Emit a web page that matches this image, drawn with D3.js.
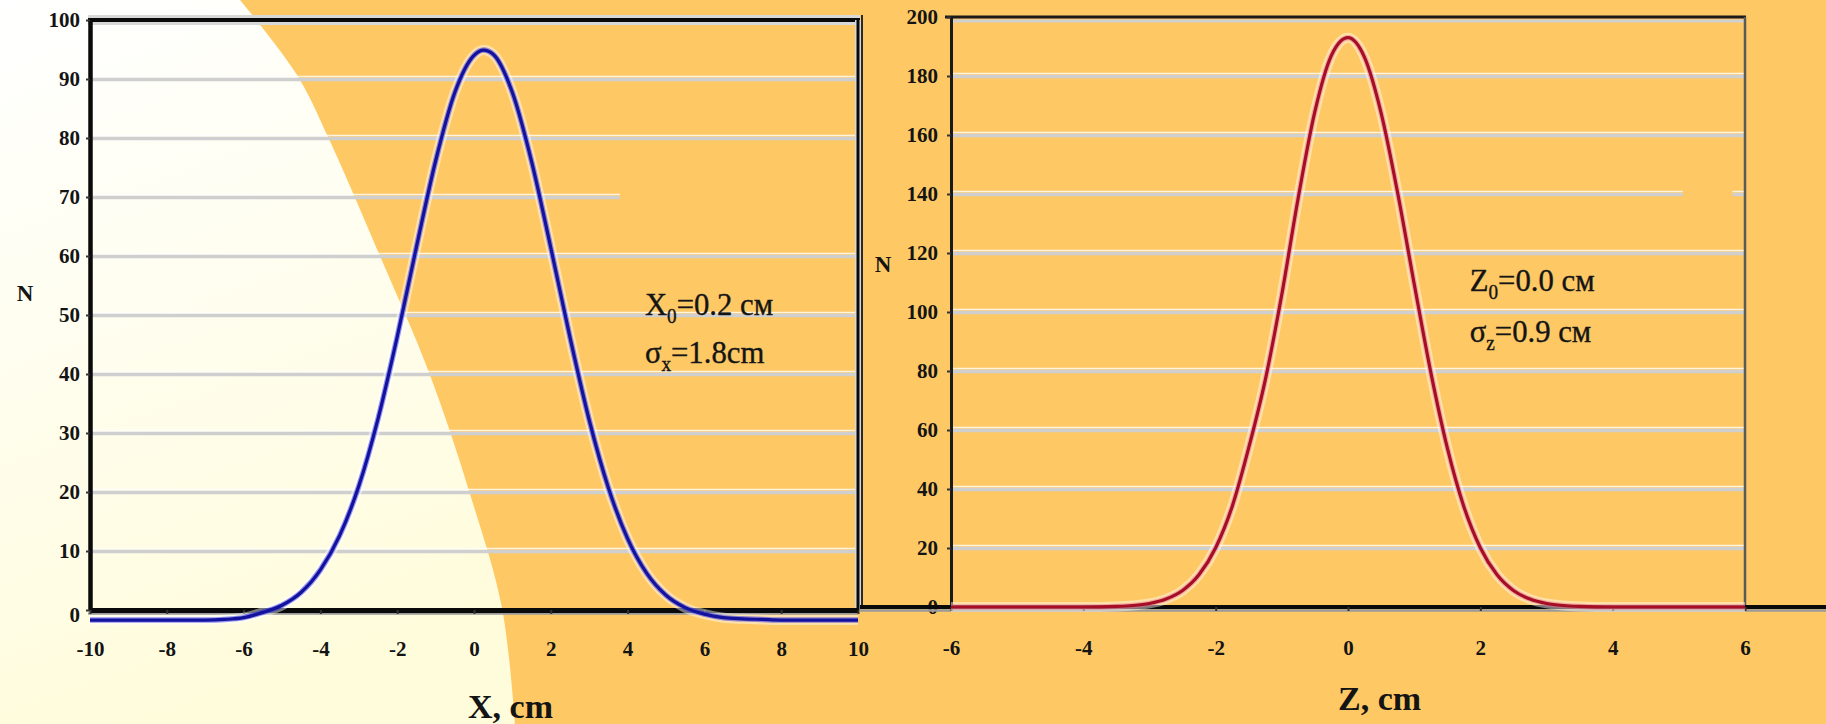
<!DOCTYPE html>
<html>
<head>
<meta charset="utf-8">
<script src="https://cdn.jsdelivr.net/npm/d3@7"></script>
<style>
  html, body { margin: 0; padding: 0; background: #FEC965; }
  svg { display: block; }
  text { font-family: "Liberation Serif", "Times New Roman", serif; fill: #141414; }
</style>
</head>
<body>
<svg id="chart" width="1826" height="724"></svg>
<script>
// Beam profile along X: counts N per position (cm)
const xPositions = [-10, -9.5, -9, -8.5, -8, -7.5, -7, -6.5, -6, -5.5, -5, -4.5, -4, -3.5, -3, -2.5, -2, -1.5, -1, -0.5,
                    0, 0.25, 0.5, 1, 1.5, 2, 2.5, 3, 3.5, 4, 4.5, 5, 5.5, 6, 6.5, 7, 7.5, 8, 8.5, 9, 9.5, 10];
const xCounts    = [-1.7, -1.7, -1.7, -1.7, -1.7, -1.7, -1.7, -1.6, -1.3, -0.4, 0.8, 3.0, 6.8, 12.6, 21.0, 32.4, 46.3, 61.5, 76.1, 87.7,
                    94.0, 94.9, 94.2, 87.7, 76.0, 61.4, 46.2, 32.2, 20.7, 12.1, 6.2, 2.5, 0.4, -0.7, -1.3, -1.5, -1.6, -1.7, -1.7, -1.7, -1.7, -1.7];

// Beam profile along Z: counts N per position (cm)
const zPositions = [-6, -5, -4, -3.5, -3.25, -3, -2.75, -2.5, -2.25, -2, -1.75, -1.5, -1.25, -1, -0.75, -0.5, -0.25,
                    0, 0.25, 0.5, 0.75, 1, 1.25, 1.5, 1.75, 2, 2.25, 2.5, 2.75, 3, 3.25, 3.5, 4, 5, 6];
const zCounts    = [0, 0, 0, 0.2, 0.5, 1.2, 2.7, 5.6, 11.0, 20.1, 34.1, 54.0, 77.0, 106.0, 139.0, 168.0, 187.0,
                    193.0, 186.3, 167.5, 140.4, 109.6, 79.7, 54.0, 34.1, 20.1, 11.0, 5.6, 2.7, 1.2, 0.5, 0.2, 0, 0, 0];

// Axis ticks
const xTicks = [-10, -8, -6, -4, -2, 0, 2, 4, 6, 8, 10];
const xCountTicks = [0, 10, 20, 30, 40, 50, 60, 70, 80, 90, 100];
const zTicks = [-6, -4, -2, 0, 2, 4, 6];
const zCountTicks = [0, 20, 40, 60, 80, 100, 120, 140, 160, 180, 200];

// Fit parameters printed in each panel
const xFitLines = [["X", "0", "=0.2 см"], ["σ", "x", "=1.8cm"]];
const zFitLines = [["Z", "0", "=0.0 см"], ["σ", "z", "=0.9 см"]];

// Gridline stretches that are left out (axis units)
const xGridGaps = [{ value: 70, from: 3.8, to: 10 }];
const zGridGaps = [{ value: 140, from: 5.06, to: 5.81 }];

const W = 1826, H = 724;
const svg = d3.select("#chart");
const plainNumber = d => String(d);   // hyphen-minus, as typeset on the slide

// ---------- background: cream swoosh over orange ----------
const defs = svg.append("defs");
const grad = defs.append("linearGradient").attr("id", "cream")
  .attr("x1", 0).attr("y1", 0).attr("x2", 0.25).attr("y2", 1);
grad.append("stop").attr("offset", "0%").attr("stop-color", "#FFFFFF");
grad.append("stop").attr("offset", "45%").attr("stop-color", "#FFFEF0");
grad.append("stop").attr("offset", "100%").attr("stop-color", "#FFFCDC");

svg.append("rect").attr("width", W).attr("height", H).attr("fill", "#FEC965");

const swooshEdge = [[240, 0], [297, 75], [328, 137], [380, 256], [430, 375], [470, 494], [502, 608], [515, 724]];
const edgePath = d3.line().curve(d3.curveCatmullRom)(swooshEdge);
svg.append("path")
  .attr("d", "M0,0L" + edgePath.slice(1) + "L0,724Z")
  .attr("fill", "url(#cream)");

// ---------- shared helpers ----------
function gridSegments(value, domain, gaps) {
  let segs = [[domain[0], domain[1]]];
  gaps.filter(g => g.value === value).forEach(g => {
    const next = [];
    segs.forEach(([a, b]) => {
      if (g.to <= a || g.from >= b) { next.push([a, b]); return; }
      if (g.from > a) next.push([a, g.from]);
      if (g.to < b) next.push([g.to, b]);
    });
    segs = next;
  });
  return segs;
}

function drawGrid(g, x, y, ticks, gaps) {
  const dom = x.domain();
  ticks.filter(t => t !== 0).forEach(t => {
    gridSegments(t, dom, gaps).forEach(([a, b]) => {
      g.append("line")
        .attr("x1", x(a)).attr("x2", x(b))
        .attr("y1", y(t) - 2.5).attr("y2", y(t) - 2.5)
        .attr("stroke", "#FFFFFF").attr("stroke-width", 1.5).attr("opacity", 0.8);
      g.append("line")
        .attr("x1", x(a)).attr("x2", x(b))
        .attr("y1", y(t) + 0.5).attr("y2", y(t) + 0.5)
        .attr("stroke", "#CFCFCF").attr("stroke-width", 3.5);
    });
  });
}

function styleAxis(sel, domainWidth, domainColor) {
  sel.select(".domain").attr("stroke", domainColor).attr("stroke-width", domainWidth);
  sel.selectAll(".tick line").attr("stroke", "#333").attr("stroke-width", 2);
  sel.selectAll(".tick text")
    .attr("fill", "#0A0A0A")
    .style("font-family", "'Liberation Serif', 'Times New Roman', serif")
    .style("font-weight", "bold")
    .style("font-size", "21px");
}

function drawCurve(g, x, y, xs, ys, halo, main) {
  const pts = xs.map((v, i) => [v, ys[i]]);
  const line = d3.line().x(d => x(d[0])).y(d => y(d[1])).curve(d3.curveMonotoneX);
  g.append("path").attr("d", line(pts)).attr("fill", "none")
    .attr("stroke", "#FFFFFF").attr("stroke-width", 10).attr("opacity", 0.45)
    .attr("stroke-linejoin", "round");
  g.append("path").attr("d", line(pts)).attr("fill", "none")
    .attr("stroke", halo).attr("stroke-width", 5.5).attr("opacity", 0.5)
    .attr("stroke-linejoin", "round");
  g.append("path").attr("d", line(pts)).attr("fill", "none")
    .attr("stroke", main).attr("stroke-width", 3.2)
    .attr("stroke-linejoin", "round");
}

function drawFitText(g, x0, baselines, lines, scaleX) {
  lines.forEach((parts, i) => {
    const t = g.append("text")
      .attr("transform", `translate(${x0},${baselines[i]}) scale(${scaleX},1)`)
      .style("font-size", "32px").attr("fill", "#1A1A1A")
      .attr("stroke", "#1A1A1A").attr("stroke-width", 0.4);
    t.append("tspan").text(parts[0]);
    t.append("tspan").attr("dy", 8).style("font-size", "20px").text(parts[1]);
    t.append("tspan").attr("dy", -8).text(parts[2]);
  });
}

// ---------- left panel: X profile ----------
const xL = d3.scaleLinear().domain([-10, 10]).range([90, 858]);
const yL = d3.scaleLinear().domain([0, 100]).range([610, 20]);
const left = svg.append("g");

drawGrid(left, xL, yL, xCountTicks.filter(t => t !== 100), xGridGaps);

// frame: top and right
left.append("line").attr("x1", xL(-10) - 2).attr("x2", xL(10) + 2).attr("y1", yL(100)).attr("y2", yL(100))
  .attr("stroke", "#D8D8D8").attr("stroke-width", 10);
left.append("line").attr("x1", xL(-10) - 2).attr("x2", xL(10) + 2).attr("y1", yL(100)).attr("y2", yL(100))
  .attr("stroke", "#0A0A0A").attr("stroke-width", 4);
left.append("line").attr("x1", xL(10)).attr("x2", xL(10)).attr("y1", yL(100)).attr("y2", yL(0))
  .attr("stroke", "#D8D8D8").attr("stroke-width", 6);
left.append("line").attr("x1", xL(10)).attr("x2", xL(10)).attr("y1", yL(100)).attr("y2", yL(0))
  .attr("stroke", "#0A0A0A").attr("stroke-width", 3);

const axLy = left.append("g").attr("transform", `translate(${xL(-10)},0)`)
  .call(d3.axisLeft(yL).tickValues(xCountTicks).tickFormat(plainNumber).tickSize(4).tickSizeOuter(0).tickPadding(6));
styleAxis(axLy, 4.5, "#0A0A0A");
axLy.selectAll(".tick text").filter(d => d === 0).attr("dy", "0.55em");

// shadow under X axis
left.append("line").attr("x1", xL(-10) - 2).attr("x2", xL(10)).attr("y1", yL(0) + 3.5).attr("y2", yL(0) + 3.5)
  .attr("stroke", "#9A9A9A").attr("stroke-width", 2.5);
const axLx = left.append("g").attr("transform", `translate(0,${yL(0)})`)
  .call(d3.axisBottom(xL).tickValues(xTicks).tickFormat(plainNumber).tickSize(4).tickSizeOuter(0).tickPadding(27));
styleAxis(axLx, 5, "#0A0A0A");

drawCurve(left, xL, yL, xPositions, xCounts, "#2A2AF5", "#12129C");
drawFitText(left, xL(4.45), [yL(50), yL(41.9)], xFitLines, 0.96);

left.append("text").attr("x", 25).attr("y", 293).attr("text-anchor", "middle").attr("dy", "0.35em")
  .style("font-size", "23px").style("font-weight", "bold").text("N");
left.append("text").attr("x", 468).attr("y", 718)
  .style("font-size", "34px").style("font-weight", "bold").text("X, cm");

// ---------- right panel: Z profile ----------
const xR = d3.scaleLinear().domain([-6, 6]).range([951, 1745]);
const yR = d3.scaleLinear().domain([0, 200]).range([607, 17]);
const right = svg.append("g");

// thin panel edge left of the axis
right.append("line").attr("x1", 862).attr("x2", 862).attr("y1", 15).attr("y2", yR(0))
  .attr("stroke", "#2A2A2A").attr("stroke-width", 2);

drawGrid(right, xR, yR, zCountTicks.filter(t => t !== 200), zGridGaps);
right.append("line").attr("x1", xR(-6)).attr("x2", xR(6)).attr("y1", yR(200) + 4).attr("y2", yR(200) + 4)
  .attr("stroke", "#D0D0D0").attr("stroke-width", 3);
right.append("line").attr("x1", xR(-6) - 6).attr("x2", xR(6) + 1).attr("y1", yR(200)).attr("y2", yR(200))
  .attr("stroke", "#1A1A1A").attr("stroke-width", 3);
right.append("line").attr("x1", xR(6)).attr("x2", xR(6)).attr("y1", yR(200)).attr("y2", yR(0))
  .attr("stroke", "#5A5A5A").attr("stroke-width", 2.5);

const axRy = right.append("g").attr("transform", `translate(${xR(-6)},0)`)
  .call(d3.axisLeft(yR).tickValues(zCountTicks).tickFormat(plainNumber).tickSize(4).tickSizeOuter(0).tickPadding(9));
styleAxis(axRy, 3, "#1A1A1A");

// X axis line runs across the whole lower band
right.append("line").attr("x1", 860).attr("x2", W).attr("y1", yR(0) + 3.5).attr("y2", yR(0) + 3.5)
  .attr("stroke", "#9A9A9A").attr("stroke-width", 2.5);
right.append("line").attr("x1", 860).attr("x2", W).attr("y1", yR(0)).attr("y2", yR(0))
  .attr("stroke", "#0A0A0A").attr("stroke-width", 4);
const axRx = right.append("g").attr("transform", `translate(0,${yR(0)})`)
  .call(d3.axisBottom(xR).tickValues(zTicks).tickFormat(plainNumber).tickSize(4).tickSizeOuter(0).tickPadding(29));
styleAxis(axRx, 0, "none");

drawCurve(right, xR, yR, zPositions, zCounts, "#E87088", "#A50E26");
drawFitText(right, xR(1.84), [yR(107), yR(90)], zFitLines, 0.96);

right.append("text").attr("x", 883).attr("y", 264).attr("text-anchor", "middle").attr("dy", "0.35em")
  .style("font-size", "23px").style("font-weight", "bold").text("N");
right.append("text").attr("x", 1338).attr("y", 710)
  .style("font-size", "34px").style("font-weight", "bold").text("Z, cm");
</script>
</body>
</html>
